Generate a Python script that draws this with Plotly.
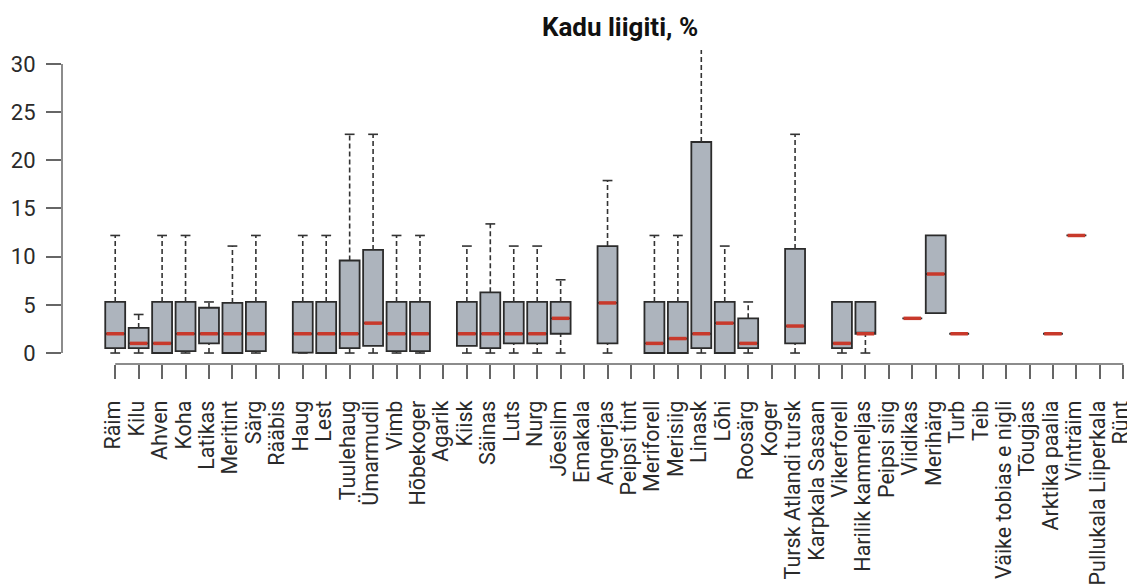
import plotly.graph_objects as go

categories = ["Räim", "Kilu", "Ahven", "Koha", "Latikas", "Meritint", "Särg", "Rääbis",
              "Haug", "Lest", "Tuulehaug", "Ümarmudil", "Vimb", "Hõbekoger", "Agarik",
              "Kiisk", "Säinas", "Luts", "Nurg", "Jõesilm", "Emakala", "Angerjas",
              "Peipsi tint", "Meriforell", "Merisiig", "Linask", "Lõhi", "Roosärg", "Koger",
              "Tursk Atlandi tursk", "Karpkala Sasaan", "Vikerforell", "Harilik kammeljas",
              "Peipsi siig", "Viidikas", "Merihärg", "Turb", "Teib", "Väike tobias e nigli",
              "Tõugjas", "Arktika paalia", "Vinträim", "Pullukala Liiperkala", "Rünt"]

N = None
lower = [0, 0, 0, 0, 0, 0, 0, N, 0, 0, 0, 0, 0, 0, N, 0, 0, 0, 0, 0, N, 0, N, 0, 0, 0, 0, 0, N,
         0, N, 0, 0, N, 3.6, 4.15, 2.0, N, N, N, 2.0, 12.2, N, N]
q1 = [0.5, 0.5, 0, 0.2, 1.0, 0, 0.2, N, 0.05, 0, 0.5, 0.75, 0.2, 0.2, N, 0.75, 0.5, 1.0, 1.0, 2.0,
      N, 1.0, N, 0, 0, 0.5, 0, 0.5, N, 1.0, N, 0.5, 2.0, N, 3.6, 4.15, 2.0, N, N, N, 2.0, 12.2, N, N]
median = [2.0, 1.0, 1.0, 2.0, 2.0, 2.0, 2.0, N, 2.0, 2.0, 2.0, 3.1, 2.0, 2.0, N, 2.0, 2.0, 2.0, 2.0,
          3.6, N, 5.2, N, 1.0, 1.5, 2.0, 3.1, 1.0, N, 2.8, N, 1.0, 2.0, N, 3.6, 8.2, 2.0, N, N, N,
          2.0, 12.2, N, N]
q3 = [5.3, 2.6, 5.3, 5.3, 4.7, 5.2, 5.3, N, 5.3, 5.3, 9.6, 10.7, 5.3, 5.3, N, 5.3, 6.3, 5.3, 5.3,
      5.3, N, 11.1, N, 5.3, 5.3, 21.9, 5.3, 3.6, N, 10.8, N, 5.3, 5.3, N, 3.6, 12.2, 2.0, N, N, N,
      2.0, 12.2, N, N]
upper = [12.2, 4.0, 12.2, 12.2, 5.3, 11.1, 12.2, N, 12.2, 12.2, 22.7, 22.7, 12.2, 12.2, N, 11.1,
         13.4, 11.1, 11.1, 7.6, N, 17.9, N, 12.2, 12.2, 34.0, 11.1, 5.3, N, 22.7, N, 5.3, 5.3, N,
         3.6, 12.2, 2.0, N, N, N, 2.0, 12.2, N, N]
y_ticks = [0, 5, 10, 15, 20, 25, 30]

BOX_FILL = "#adb4bd"
BOX_LINE = "#2b2b2b"
MED_RED = "#c8392b"
AXIS = "#666666"
TXT = "#2a2a2a"
FONT = "Roboto, sans-serif"

# the page body has an 8px margin; size the figure so it fits the 1135x584 window
W, H = 1127, 576

idx = [i for i in range(len(categories)) if median[i] is not None]
cx = [categories[i] for i in idx]

fig = go.Figure()

# whiskers (dashed)
wx, wy = [], []
for i in idx:
    if upper[i] > q3[i]:
        wx += [categories[i], categories[i], None]
        wy += [q3[i], upper[i], None]
    if lower[i] < q1[i]:
        wx += [categories[i], categories[i], None]
        wy += [lower[i], q1[i], None]
fig.add_trace(go.Scatter(x=wx, y=wy, mode="lines",
                         line=dict(color="#333333", width=1.6, dash="5px,3px"),
                         hoverinfo="skip", showlegend=False))

# caps
capx, capy = [], []
for i in idx:
    if upper[i] > q3[i]:
        capx.append(categories[i]); capy.append(upper[i])
    if lower[i] < q1[i]:
        capx.append(categories[i]); capy.append(lower[i])
fig.add_trace(go.Scatter(x=capx, y=capy, mode="markers",
                         marker=dict(symbol="line-ew", size=7, line=dict(color="#333333", width=1.6)),
                         hoverinfo="skip", showlegend=False))

# boxes
fig.add_trace(go.Box(x=cx, q1=[q1[i] for i in idx], median=[median[i] for i in idx],
                     q3=[q3[i] for i in idx], lowerfence=[q1[i] for i in idx],
                     upperfence=[q3[i] for i in idx], width=0.85,
                     fillcolor=BOX_FILL, line=dict(color=BOX_LINE, width=1.8),
                     boxpoints=False, showlegend=False))

# red medians
fig.add_trace(go.Scatter(x=cx, y=[median[i] for i in idx], mode="markers",
                         marker=dict(symbol="line-ew", size=12.5, line=dict(color=MED_RED, width=3.5)),
                         hoverinfo="skip", showlegend=False))

fig.update_layout(
    width=W, height=H,
    margin=dict(l=54, r=0, t=42, b=220),
    plot_bgcolor="white", paper_bgcolor="white",
    font=dict(family=FONT, color=TXT, size=20),
    title=dict(text="<b>Kadu liigiti, %</b>", x=(620 - 8) / W, xref="container", xanchor="center",
               y=1 - 19 / H, yref="container", yanchor="middle",
               font=dict(family=FONT, size=26, color="#111111")),
    xaxis=dict(type="category", categoryorder="array", categoryarray=categories,
               tickmode="array", tickvals=categories, ticktext=categories,
               range=[-2.27, 43.5], showline=False, showgrid=False, zeroline=False,
               automargin=False,
               ticks="outside", ticklen=14, tickwidth=1.5, tickcolor=AXIS, tickangle=-90,
               tickfont=dict(size=21.5, family=FONT, color=TXT), ticklabelstandoff=13,
               ticklabelshift=-2),
    yaxis=dict(range=[-1.14, 31.45], showline=False, showgrid=False, zeroline=False,
               automargin=False,
               tickmode="array", tickvals=y_ticks,
               ticks="outside", ticklen=15, tickwidth=1.5, tickcolor=AXIS,
               tickfont=dict(size=22, family=FONT, color=TXT), ticklabelstandoff=6),
    shapes=[
        dict(type="line", xref="paper", yref="y", x0=0, x1=0, y0=0, y1=30,
             line=dict(color=AXIS, width=1.5)),
        dict(type="line", xref="x", yref="paper", x0=0, x1=43, y0=0, y1=0,
             line=dict(color=AXIS, width=1.5)),
    ],
)

fig.write_html("out.html")
